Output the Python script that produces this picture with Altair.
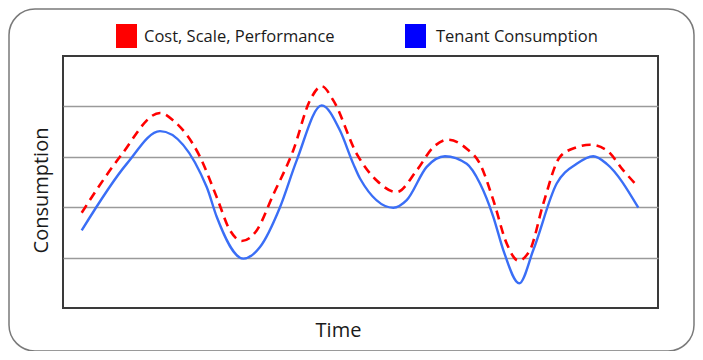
import altair as alt
import pandas as pd

# ---- data ----
series_names = ["Cost, Scale, Performance", "Tenant Consumption"]
series_colors = ["#FF0000", "#0000FF"]
line_colors = ["#FF0000", "#3A6EF6"]

red_time = [18.7, 57, 97, 110.3, 137, 153.7, 167, 178.7, 193.7, 210.3, 230.3, 247,
            258.7, 270.3, 293.7, 313.7, 333.7, 353.7, 370.3, 385.3, 403.7, 417,
            430.3, 443.7, 455.3, 467, 480.3, 497, 513.7, 527, 543.7, 560.3, 575.3]
red_value = [1.89, 3.0, 3.87, 3.72, 3.0, 2.20, 1.54, 1.33, 1.54, 2.25, 3.13, 4.12,
             4.40, 4.12, 3.06, 2.53, 2.30, 2.73, 3.19, 3.34, 3.16, 2.86,
             2.14, 1.28, 0.94, 1.15, 2.07, 3.0, 3.19, 3.24, 3.13, 2.73, 2.40]

blue_time = [18.7, 63.7, 97, 143.7, 153.7, 180.3, 197, 217, 233.7, 258.7, 277, 290.3,
             297, 330.3, 343.7, 363.7, 382, 403.7, 417, 430.3, 440.3, 456.3, 470.3,
             493.7, 513.7, 530.3, 543.7, 575.3]
blue_value = [1.54, 2.86, 3.51, 2.40, 1.81, 0.98, 1.21, 2.0, 2.93, 4.02, 3.52, 2.86,
              2.57, 1.99, 2.14, 2.80, 3.01, 2.86, 2.47, 1.81, 1.15, 0.49, 1.15,
              2.47, 2.86, 3.01, 2.86, 1.99]

grid_values = [1, 2, 3, 4]

df = pd.concat([
    pd.DataFrame({"t": red_time, "v": red_value, "series": series_names[0]}),
    pd.DataFrame({"t": blue_time, "v": blue_value, "series": series_names[1]}),
])

FONT = "Open Sans"
W, H = 595, 252

xs = alt.Scale(domain=[0, 595], nice=False, zero=False)
ys = alt.Scale(domain=[0, 5], nice=False, zero=False)

# outer rounded frame
frame = alt.Chart(pd.DataFrame({"a": [0]})).mark_rect(
    fill=None, stroke="#7a7a7a", strokeWidth=1.5, cornerRadius=26
).encode(
    x=alt.value(-54), x2=alt.value(631), y=alt.value(-47), y2=alt.value(295)
)

base = alt.Chart(df).encode(
    x=alt.X("t:Q", scale=xs,
            axis=alt.Axis(title="Time", labels=False, ticks=False, domain=False, grid=False,
                          titleFont=FONT, titleFontSize=20, titleFontWeight="normal",
                          titleColor="#1a1a1a", titleX=275, titleY=28,
                          titleBaseline="alphabetic", titleAlign="center")),
    y=alt.Y("v:Q", scale=ys,
            axis=alt.Axis(title="Consumption", labels=False, ticks=False, domain=False,
                          grid=True, values=grid_values, gridColor="#9a9a9a", gridWidth=1.5,
                          titleFont=FONT, titleFontSize=20, titleFontWeight="normal",
                          titleColor="#1a1a1a", titleX=-16, titleY=134, titleAngle=-90,
                          titleBaseline="alphabetic", titleAlign="center")),
)

red_line = base.transform_filter(alt.datum.series == series_names[0]).mark_line(
    interpolate="monotone", strokeWidth=2.6, strokeDash=[9, 6], color=line_colors[0]
)
blue_line = base.transform_filter(alt.datum.series == series_names[1]).mark_line(
    interpolate="monotone", strokeWidth=2.4, color=line_colors[1]
)

# legend
leg_layers = []
leg_pos = [(53, 81), (342, 373)]
for name, col, (sx, tx) in zip(series_names, series_colors, leg_pos):
    d = pd.DataFrame({"series": [name]})
    sq = alt.Chart(d).mark_rect(color=col).encode(
        x=alt.value(sx), x2=alt.value(sx + 21), y=alt.value(-32), y2=alt.value(-8)
    )
    tx_mark = alt.Chart(d).mark_text(
        font=FONT, fontSize=16.5, color="#1a1a1a", align="left", baseline="alphabetic"
    ).encode(x=alt.value(tx), y=alt.value(-14), text="series:N")
    leg_layers += [sq, tx_mark]

chart = alt.layer(frame, red_line, blue_line, *leg_layers).properties(
    width=W, height=H,
    autosize=alt.AutoSizeParams(type="none"),
    padding={"left": 55, "top": 48, "right": 37, "bottom": 43},
).configure(
    background="white",
    view=alt.ViewConfig(stroke="#3a3a3a", strokeWidth=2),
)

chart.save("out.html", embed_options={"renderer": "svg", "actions": False})
